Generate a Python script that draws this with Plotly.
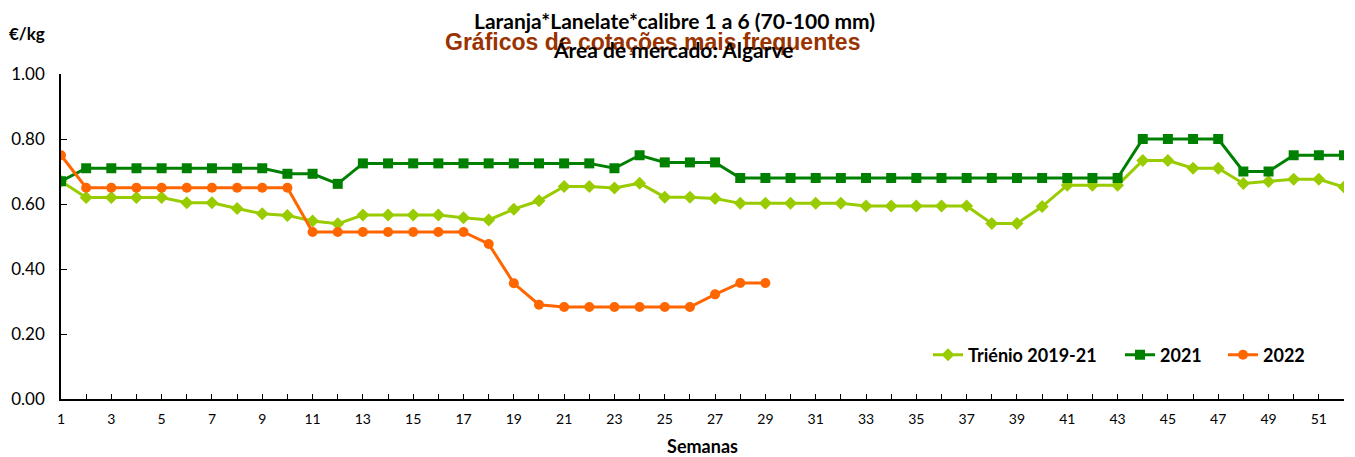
import plotly.graph_objects as go

weeks = list(range(1, 53))

trienio = [0.67, 0.62, 0.62, 0.62, 0.62, 0.604, 0.604, 0.586, 0.570, 0.565,
           0.548, 0.539, 0.566, 0.566, 0.566, 0.566, 0.558, 0.551, 0.584, 0.610,
           0.654, 0.654, 0.649, 0.664, 0.621, 0.621, 0.617, 0.602, 0.602, 0.602,
           0.602, 0.602, 0.594, 0.594, 0.594, 0.594, 0.594, 0.540, 0.540, 0.592,
           0.658, 0.658, 0.658, 0.734, 0.734, 0.710, 0.710, 0.663, 0.669, 0.676,
           0.676, 0.652]

y2021 = [0.67, 0.71, 0.71, 0.71, 0.71, 0.71, 0.71, 0.71, 0.71, 0.693,
         0.693, 0.662, 0.725, 0.725, 0.725, 0.725, 0.725, 0.725, 0.725, 0.725,
         0.725, 0.725, 0.710, 0.75, 0.728, 0.728, 0.728, 0.68, 0.68, 0.68,
         0.68, 0.68, 0.68, 0.68, 0.68, 0.68, 0.68, 0.68, 0.68, 0.68,
         0.68, 0.68, 0.68, 0.80, 0.80, 0.80, 0.80, 0.70, 0.70, 0.75,
         0.75, 0.75]

y2022 = [0.75, 0.65, 0.65, 0.65, 0.65, 0.65, 0.65, 0.65, 0.65, 0.65,
         0.514, 0.514, 0.514, 0.514, 0.514, 0.514, 0.514, 0.477, 0.356, 0.290,
         0.283, 0.283, 0.283, 0.283, 0.283, 0.283, 0.322, 0.357, 0.357]

series_names = ["Triénio 2019-21", "2021", "2022"]

xtick_vals = weeks
xtick_text = [str(w) if w % 2 == 1 else "" for w in weeks]
ytick_vals = [0.0, 0.2, 0.4, 0.6, 0.8, 1.0]

FONT = "Lato"

# page has an 8px body margin: build figure in page coords minus 8
OFF = 8
W, H = 1355 - OFF, 457 - OFF
L, T = 61 - OFF, 74 - OFF
R = W - (1344 - OFF)
B = H - (399 - OFF)
pw, ph = W - L - R, H - T - B


def px_to_paper(px, py):
    return (px - OFF - L) / pw, (H - B - (py - OFF)) / ph


fig = go.Figure()
fig.add_trace(go.Scatter(x=weeks, y=trienio, name=series_names[0], mode="lines+markers",
                         line=dict(color="#99cc00", width=3),
                         marker=dict(symbol="diamond", size=10, color="#99cc00"),
                         legend="legend"))
fig.add_trace(go.Scatter(x=weeks, y=y2021, name=series_names[1], mode="lines+markers",
                         line=dict(color="#008000", width=3),
                         marker=dict(symbol="square", size=10, color="#008000"),
                         legend="legend2"))
fig.add_trace(go.Scatter(x=weeks[:len(y2022)], y=y2022, name=series_names[2], mode="lines+markers",
                         line=dict(color="#ff6600", width=3),
                         marker=dict(symbol="circle", size=10, color="#ff6600"),
                         legend="legend3"))

ann_specs = [
    ("<b>Laranja*Lanelate*calibre 1 a 6 (70-100 mm)</b>", 674, 21,
     dict(size=21, family=FONT, color="black")),
    ("<b>Gráficos de cotações mais frequentes</b>", 652, 42,
     dict(size=23, family="Liberation Sans", color="#993300")),
    ("<b>Área de mercado: Algarve</b>", 673, 49,
     dict(size=21, family=FONT, color="black")),
    ("<b>€/kg</b>", 27, 33, dict(size=17, family=FONT, color="black")),
]
annotations = []
for text, px, py, st in ann_specs:
    x, y = px_to_paper(px, py)
    annotations.append(dict(text=text, x=x, y=y, xref="paper", yref="paper", showarrow=False,
                            xanchor="center", yanchor="middle", font=st))


def legend_at(px):
    x, y = px_to_paper(px, 355)
    return dict(orientation="h", x=x, y=y, xanchor="left", yanchor="middle",
                font=dict(family=FONT, size=18, color="black", weight="bold"),
                bgcolor="rgba(0,0,0,0)")


fig.update_layout(
    width=W, height=H,
    margin=dict(l=L, r=R, t=T, b=B, autoexpand=False),
    paper_bgcolor="white", plot_bgcolor="white",
    font=dict(family=FONT, color="black"),
    showlegend=True,
    legend=legend_at(928),
    legend2=legend_at(1120),
    legend3=legend_at(1223),
    xaxis=dict(range=[1, 52], tickmode="array", tickvals=xtick_vals, ticktext=xtick_text,
               automargin=False,
               showgrid=False, zeroline=False, showline=True, linecolor="black", linewidth=1.5,
               ticks="inside", ticklen=5, tickcolor="black", tickfont=dict(size=14, family=FONT),
               ticklabelstandoff=6,
               title=dict(text="<b>Semanas</b>", font=dict(size=18, family=FONT), standoff=15)),
    yaxis=dict(range=[0, 1], tickmode="array", tickvals=ytick_vals, tickformat=".2f",
               automargin=False,
               showgrid=False, zeroline=False, showline=True, linecolor="black", linewidth=1.5,
               ticks="inside", ticklen=6, tickcolor="black", tickfont=dict(size=17, family=FONT),
               ticklabelstandoff=11),
    annotations=annotations,
)

fig.write_html("out.html")
